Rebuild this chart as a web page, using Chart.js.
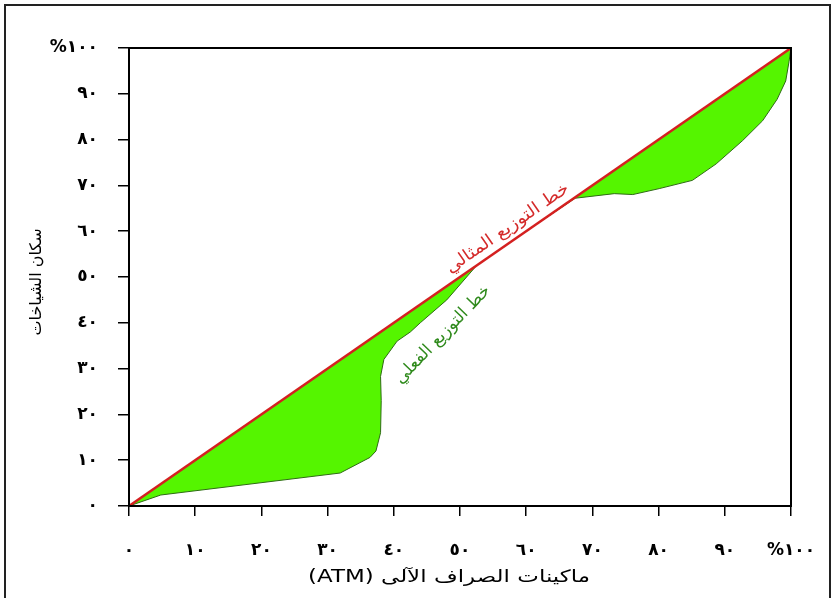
<!DOCTYPE html>
<html>
<head>
<meta charset="utf-8">
<script src="https://cdn.jsdelivr.net/npm/chart.js@4"></script>
<style>
  body { margin: 0; background: #fff; }
  #wrap { width: 835px; height: 598px; }
</style>
</head>
<body>
<div id="wrap"><canvas id="myChart" width="835" height="598" dir="rtl"></canvas></div>
<script>
// tick labels (arabic-indic digits)
const xTickLabels = ['٠', '١٠', '٢٠', '٣٠', '٤٠', '٥٠', '٦٠', '٧٠', '٨٠', '٩٠', '١٠٠%'];
const yTickLabels = ['٠', '١٠', '٢٠', '٣٠', '٤٠', '٥٠', '٦٠', '٧٠', '٨٠', '٩٠', '١٠٠%'];

// ideal distribution line
const idealX = [0, 100];
const idealY = [0, 100];

// actual distribution (lorenz curve)
const actualX = [0, 4.8, 31.9, 36.4, 37.3, 38, 38.1, 38, 38.5, 40.5, 42.5, 44, 48, 52.5, 60, 67.4, 73.3, 76.1, 80.1, 85.1, 88.7, 92.7, 95.7, 97.9, 99.2, 99.7, 100];
const actualY = [0, 2.4, 7.2, 10.6, 12, 16, 23, 28.3, 32, 36, 38, 40, 45, 52.5, 60, 67.2, 68.2, 68, 69.3, 71.1, 74.7, 79.8, 84.1, 88.8, 92.8, 97, 100];

const idealLabel = 'خط التوزيع المثالي';
const actualLabel = 'خط التوزيع الفعلي';
const xTitle = 'ماكينات الصراف الآلى (ATM)';
const yTitle = 'سكان الشياخات';

const toPts = (xs, ys) => xs.map((x, i) => ({x: x, y: ys[i]}));

const arFont = '"DejaVu Sans", "Noto Sans", sans-serif';

// frame, outer border, titles and the two line labels
const extras = {
  id: 'extras',
  afterDraw: (chart) => {
    const ctx = chart.ctx;
    const {top, left, right, bottom} = chart.chartArea;
    const xs = chart.scales.x, ys = chart.scales.y;
    ctx.save();
    ctx.strokeStyle = '#000';
    ctx.lineWidth = 2;
    ctx.strokeRect(left, top, right - left, bottom - top);
    ctx.strokeStyle = '#222';
    ctx.strokeRect(5, 5, 825, 600);

    ctx.textAlign = 'center';
    ctx.textBaseline = 'middle';
    ctx.fillStyle = '#000';

    // axis titles
    ctx.save();
    ctx.font = '17px ' + arFont;
    ctx.translate((left + right) / 2 - 11, 578);
    ctx.scale(1.35, 1);
    ctx.fillText(xTitle, 0, 0);
    ctx.restore();

    ctx.save();
    ctx.font = '16px ' + arFont;
    ctx.translate(37, 282);
    ctx.rotate(-Math.PI / 2);
    ctx.fillText(yTitle, 0, 0);
    ctx.restore();

    ctx.font = '17px ' + arFont;
    // red label along the ideal line
    ctx.save();
    ctx.translate(xs.getPixelForValue(57.2), ys.getPixelForValue(60.6));
    ctx.rotate(-34.7 * Math.PI / 180);
    ctx.scale(1.1, 1);
    ctx.fillStyle = '#d42a2a';
    ctx.fillText(idealLabel, 0, 0);
    ctx.restore();
    // green label under it
    ctx.save();
    ctx.translate(xs.getPixelForValue(47.4), ys.getPixelForValue(37.4));
    ctx.rotate(-46 * Math.PI / 180);
    ctx.fillStyle = '#2f8a1c';
    ctx.fillText(actualLabel, 0, 0);
    ctx.restore();
    ctx.restore();
  }
};

const tickFont = {size: 17, weight: 'bold', family: arFont};

const config = {
  type: 'line',
  data: {
    datasets: [{
      label: 'ideal',
      data: toPts(idealX, idealY),
      borderColor: '#d42020',
      borderWidth: 2.5,
      pointRadius: 0,
      fill: false,
      order: 0
    }, {
      label: 'actual',
      data: toPts(actualX, actualY),
      borderColor: '#2e6b14',
      borderWidth: 1,
      backgroundColor: '#55f500',
      pointRadius: 0,
      fill: {target: 0},
      order: 1
    }]
  },
  plugins: [extras],
  options: {
    responsive: false,
    animation: false,
    layout: {padding: {left: 0, top: 48, right: 44, bottom: 0}},
    plugins: {legend: {display: false}, tooltip: {enabled: false}},
    scales: {
      x: {
        type: 'linear',
        min: 0, max: 100,
        afterFit: (s) => { s.height = 92; s.paddingRight = 0; s.paddingLeft = 0; },
        grid: {display: true, drawOnChartArea: false, drawTicks: true, tickLength: 10, color: '#000', lineWidth: 1.5},
        border: {display: true, color: '#000', width: 2},
        ticks: {
          stepSize: 10,
          padding: 24,
          color: '#000',
          font: tickFont,
          callback: (v) => xTickLabels[Math.round(v / 10)]
        },
        title: {display: false, text: xTitle}
      },
      y: {
        type: 'linear',
        min: 0, max: 100,
        afterFit: (s) => { s.width = 129; s.paddingTop = 0; s.paddingBottom = 0; },
        grid: {display: true, drawOnChartArea: false, drawTicks: true, tickLength: 11, color: '#000', lineWidth: 1.5},
        border: {display: true, color: '#000', width: 2},
        ticks: {
          stepSize: 10,
          padding: 20,
          color: '#000',
          font: tickFont,
          callback: (v) => yTickLabels[Math.round(v / 10)]
        },
        title: {display: false, text: yTitle}
      }
    }
  }
};

const ctx = document.getElementById('myChart').getContext('2d');
const myChart = new Chart(ctx, config);
</script>
</body>
</html>
